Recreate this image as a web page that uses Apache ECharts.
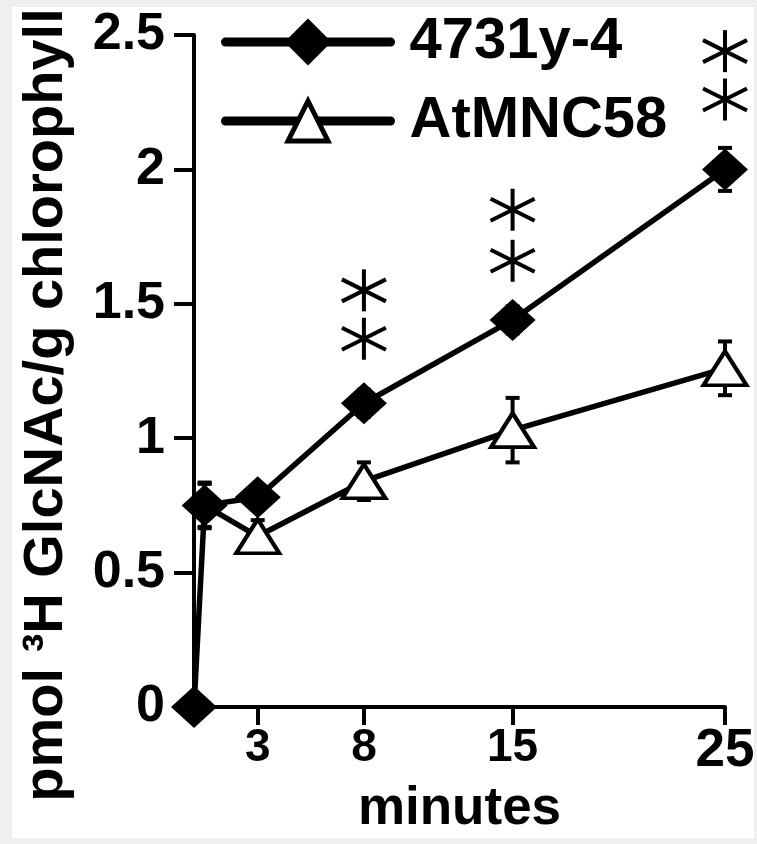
<!DOCTYPE html>
<html><head><meta charset="utf-8">
<script src="https://cdn.jsdelivr.net/npm/echarts@6/dist/echarts.min.js"></script>
<style>
html,body{margin:0;padding:0;background:#efefef;}
#frame{position:absolute;left:12px;top:7px;width:742px;height:831px;background:#fff;}
#chart{position:absolute;left:0;top:0;width:757px;height:844px;}
</style></head><body>
<div id="frame"></div><div id="chart"></div>
<script>
const seriesNames = ['4731y-4', 'AtMNC58'];
const xTicks = [3, 8, 15, 25];
const xTickLabels = ['3', '8', '15', '25'];
const yTicks = [0, 0.5, 1, 1.5, 2, 2.5];
const yTickLabels = ['0', '0.5', '1', '1.5', '2', '2.5'];
const xA = [0, 0.5, 3, 8, 15, 25];
const yA = [0, 0.75, 0.78, 1.13, 1.44, 2.0];
const eA = [0, 0.085, 0.04, 0.05, 0.05, 0.08];
const xB = [0.5, 3, 8, 15, 25];
const yB = [0.75, 0.635, 0.84, 1.03, 1.26];
const eB = [0.08, 0.06, 0.07, 0.12, 0.10];
const starX = [8, 8, 15, 15, 25, 25];
const starY = [1.37, 1.55, 1.66, 1.85, 2.26, 2.44];
const yTitle = 'pmol \u00B3H GlcNAc/g chlorophyll';
const xTitle = 'minutes';

const FF = 'Liberation Sans, Arial, sans-serif';
const chart = echarts.init(document.getElementById('chart'), null, {renderer: 'canvas'});

function errSeries(xs, ys, es, z) {
  return {
    type: 'custom', z: z, silent: true, clip: false,
    data: xs.map((x, i) => [x, ys[i], es[i]]),
    encode: {x: 0, y: 1},
    renderItem: function (params, api) {
      const x = api.value(0), y = api.value(1), e = api.value(2);
      if (!e) return null;
      const t = api.coord([x, y + e]), b = api.coord([x, y - e]);
      const hw = 7, st = {stroke: '#000', lineWidth: 4};
      return {type: 'group', children: [
        {type: 'line', shape: {x1: t[0], y1: t[1], x2: b[0], y2: b[1]}, style: st},
        {type: 'line', shape: {x1: t[0] - hw, y1: t[1], x2: t[0] + hw, y2: t[1]}, style: st},
        {type: 'line', shape: {x1: b[0] - hw, y1: b[1], x2: b[0] + hw, y2: b[1]}, style: st}
      ]};
    }
  };
}

const starSeries = {
  type: 'custom', z: 6, silent: true, clip: false,
  data: starX.map((x, i) => [x, starY[i]]),
  encode: {x: 0, y: 1},
  renderItem: function (params, api) {
    const c = api.coord([api.value(0), api.value(1)]);
    const st = {stroke: '#000', lineWidth: 4};
    return {type: 'group', children: [
      {type: 'line', shape: {x1: c[0], y1: c[1] - 21, x2: c[0], y2: c[1] + 21}, style: st},
      {type: 'line', shape: {x1: c[0] - 22, y1: c[1] - 11, x2: c[0] + 22, y2: c[1] + 11}, style: st},
      {type: 'line', shape: {x1: c[0] - 22, y1: c[1] + 11, x2: c[0] + 22, y2: c[1] - 11}, style: st}
    ]};
  }
};

const option = {
  animation: false,
  backgroundColor: 'transparent',
  grid: {left: 194, right: 32, top: 35, bottom: 137, containLabel: false, outerBoundsMode: 'none'},
  legend: {
    orient: 'vertical', left: 216, top: 8, itemWidth: 165, itemHeight: 50, itemGap: 21,
    data: seriesNames,
    textStyle: {fontFamily: FF, fontWeight: 'bold', fontSize: 58, color: '#000', padding: [0, 0, 0, 14]},
    lineStyle: {width: 9, color: '#000', cap: 'round'},
    itemStyle: {borderWidth: 5, borderColor: '#000'}
  },
  xAxis: {
    type: 'value', min: 0, max: 25,
    axisLine: {onZero: false, lineStyle: {color: '#000', width: 4}},
    axisTick: {show: true, customValues: xTicks, length: 18, lineStyle: {color: '#000', width: 4}},
    axisLabel: {
      customValues: xTicks, margin: 18, color: '#000', fontFamily: FF, fontWeight: 'bold', fontSize: 46,
      formatter: function (v) {
        const i = xTicks.indexOf(v);
        const s = i >= 0 ? xTickLabels[i] : '';
        return i === xTicks.length - 1 ? '{big|' + s + '}' : s;
      },
      rich: {big: {fontFamily: FF, fontWeight: 'bold', fontSize: 53, color: '#000'}}
    },
    splitLine: {show: false},
    name: xTitle, nameLocation: 'middle', nameGap: 68,
    nameTextStyle: {fontFamily: FF, fontWeight: 'bold', fontSize: 53, color: '#000'}
  },
  yAxis: {
    type: 'value', min: 0, max: 2.5, interval: 0.5,
    axisLine: {show: true, onZero: false, lineStyle: {color: '#000', width: 4}},
    axisTick: {show: true, length: 20, lineStyle: {color: '#000', width: 4}},
    axisLabel: {
      margin: 29, color: '#000', fontFamily: FF, fontWeight: 'bold', fontSize: 52,
      formatter: function (v) {
        const i = yTicks.findIndex(t => Math.abs(t - v) < 1e-9);
        return i >= 0 ? yTickLabels[i] : '';
      }
    },
    splitLine: {show: false}
  },
  graphic: [{
    type: 'text', x: 47, y: 405, rotation: Math.PI / 2,
    style: {text: yTitle, fontFamily: FF, fontWeight: 'bold', fontSize: 56, fill: '#000',
            align: 'center', verticalAlign: 'middle'}
  }],
  series: [
    errSeries(xB, yB, eB, 1),
    errSeries(xA, yA, eA, 1),
    {
      name: seriesNames[1], type: 'line', z: 3, clip: false,
      data: xB.map((x, i) => i === 0 ? {value: [x, yB[i]], symbol: 'none'} : [x, yB[i]]),
      symbol: 'triangle', symbolSize: [43, 34], showAllSymbol: true,
      lineStyle: {color: '#000', width: 5.5},
      itemStyle: {color: '#fff', borderColor: '#000', borderWidth: 4}
    },
    {
      name: seriesNames[0], type: 'line', z: 4, clip: false,
      data: xA.map((x, i) => [x, yA[i]]),
      symbol: 'diamond', symbolSize: [46, 42], showAllSymbol: true,
      lineStyle: {color: '#000', width: 5.5},
      itemStyle: {color: '#000', borderColor: '#000', borderWidth: 0}
    },
    starSeries
  ]
};
chart.setOption(option);
</script>
</body></html>
